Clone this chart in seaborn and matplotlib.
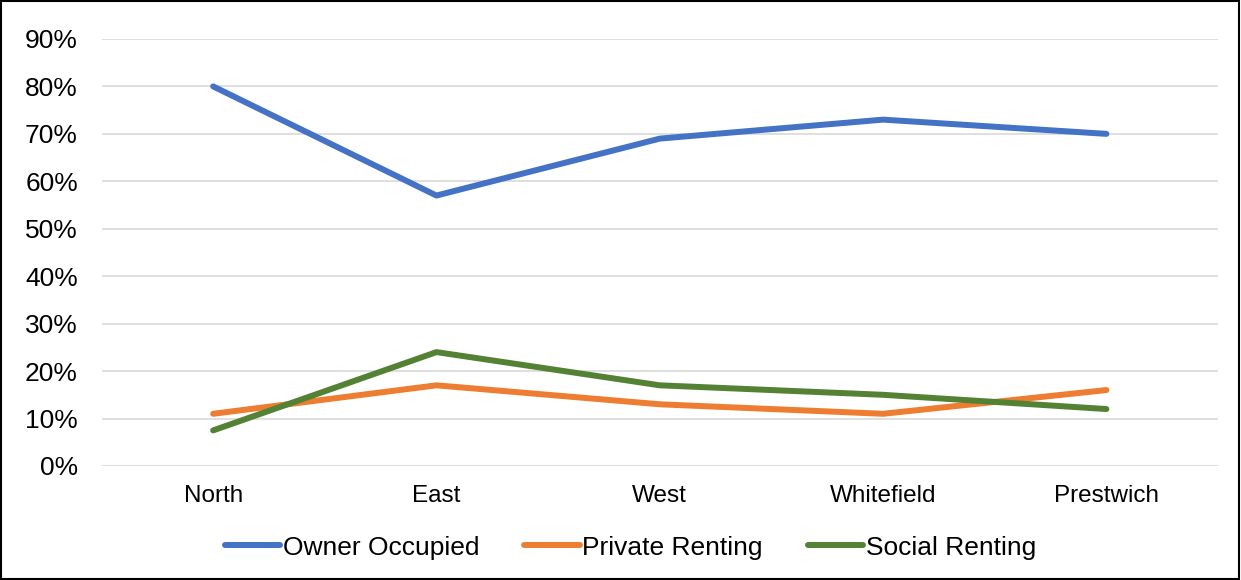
import pandas as pd
import matplotlib
matplotlib.use("Agg")
import matplotlib.pyplot as plt
import seaborn as sns
from matplotlib.ticker import PercentFormatter
from matplotlib.patches import Rectangle

# datos
areas = ["North", "East", "West", "Whitefield", "Prestwich"]
owner_occupied = [0.80, 0.57, 0.69, 0.73, 0.70]
private_renting = [0.11, 0.17, 0.13, 0.11, 0.16]
social_renting = [0.075, 0.24, 0.17, 0.15, 0.12]
series_names = ["Owner Occupied", "Private Renting", "Social Renting"]
colors = ["#4472C4", "#ED7D31", "#548235"]

df = pd.concat([
    pd.DataFrame({"area": areas, "share": vals, "tenure": name})
    for name, vals in zip(series_names, [owner_occupied, private_renting, social_renting])
], ignore_index=True)

sns.set_theme(style="white")
plt.rcParams["font.family"] = ["Liberation Sans", "DejaVu Sans"]
plt.rcParams["text.color"] = "black"

fig = plt.figure(figsize=(12.41, 5.8), dpi=100)
ax = fig.add_axes([0.0818, 0.1966, 0.8997, 0.7362])

sns.lineplot(data=df, x="area", y="share", hue="tenure", hue_order=series_names,
             palette=colors, linewidth=4.3, sort=False, ax=ax,
             solid_capstyle="round", legend=True)

ax.set_xlim(-0.5, len(areas) - 0.5)
ax.set_ylim(0, 0.9)
ax.set_yticks([i / 10 for i in range(10)])
ax.yaxis.set_major_formatter(PercentFormatter(1.0, decimals=0))
ax.grid(axis="y", color="#D9D9D9", linewidth=1.2)
ax.set_axisbelow(True)
for s in ax.spines.values():
    s.set_visible(False)
ax.set_xlabel("")
ax.set_ylabel("")
ax.tick_params(axis="y", labelsize=19, pad=17, length=0, labelcolor="black")
ax.tick_params(axis="x", labelsize=17.5, pad=13.5, length=0, labelcolor="black")

handles, labels = ax.get_legend_handles_labels()
ax.legend_.remove()
leg = fig.legend(handles, labels, loc="center", bbox_to_anchor=(0.508, 0.056), ncol=3,
                 frameon=False, fontsize=19, handlelength=2.1, handletextpad=0.1,
                 columnspacing=1.7)
for t in leg.get_texts():
    t.set_color("black")

# borde exterior
fig.patches.append(Rectangle((0.001, 0.002), 0.997, 0.996, transform=fig.transFigure,
                             fill=False, edgecolor="black", linewidth=1.5))

plt.savefig("out.png", dpi=100)
